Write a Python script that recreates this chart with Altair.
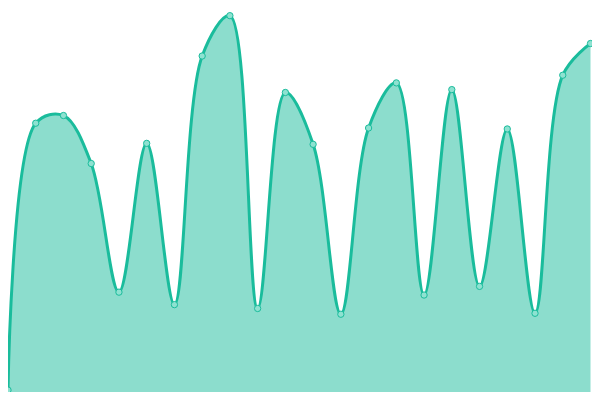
import altair as alt
import pandas as pd

idx = list(range(22))
values = [2, 280, 288, 238, 104, 259, 91, 350, 392, 87, 312, 258, 81, 275, 322, 101, 315, 110, 274, 82, 330, 363]

df = pd.DataFrame({"i": idx, "v": values})

W, H = 584, 384
x = alt.X("i:Q", scale=alt.Scale(domain=[0, 21], range=[0, 582.5], nice=False, zero=False), axis=None)
y = alt.Y("v:Q", scale=alt.Scale(domain=[0, 400], range=[H, 0], nice=False, zero=False), axis=None)

base = alt.Chart(df).encode(x=x, y=y)

area = base.mark_area(interpolate="catmull-rom", color="#1abc9c", opacity=0.5)
line = base.mark_line(interpolate="catmull-rom", color="#1abc9c", strokeWidth=3)
pts = base.mark_point(filled=True, shape="circle", size=40, fill="#8ee2d1", stroke="#1abc9c", strokeWidth=1, opacity=1)

chart = (area + line + pts).properties(width=W, height=H, padding=0, autosize="none").configure_view(stroke=None)

chart.save("out.html", embed_options={"renderer": "svg", "actions": False})
